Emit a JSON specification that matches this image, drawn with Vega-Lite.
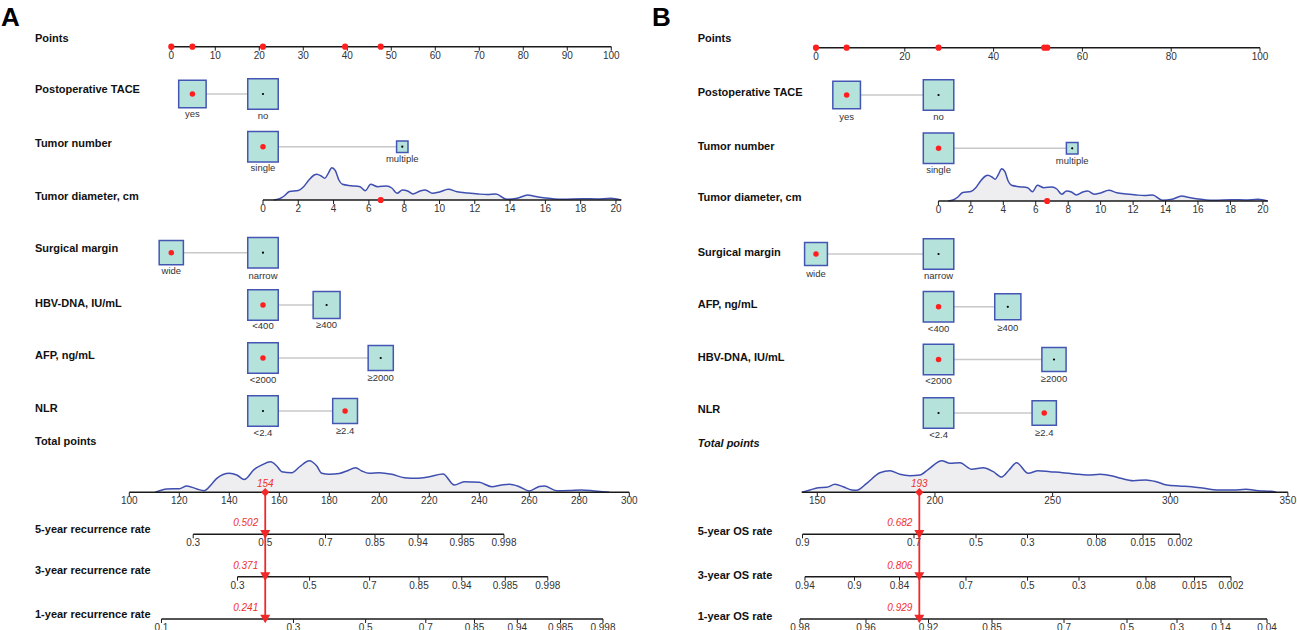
{
"$schema":"https://vega.github.io/schema/vega-lite/v6.json",
"padding":0,
"spacing":0,
"bounds":"flush",
"background":"white",
"config":{"view":{"stroke":null},"text":{"font":"Liberation Sans"}},
"datasets":{
"A":[
{"k":"ttl","x":-38.7,"y":25.5,"t":"A"},
{"k":"row","x":-30.98,"y":38.5,"t":"Points"},
{"k":"row","x":-30.98,"y":90,"t":"Postoperative TACE"},
{"k":"row","x":-30.98,"y":144,"t":"Tumor number"},
{"k":"row","x":-30.98,"y":197.3,"t":"Tumor diameter, cm"},
{"k":"row","x":-30.98,"y":249,"t":"Surgical margin"},
{"k":"row","x":-30.98,"y":304,"t":"HBV-DNA, IU/mL"},
{"k":"row","x":-30.98,"y":356,"t":"AFP, ng/mL"},
{"k":"row","x":-30.98,"y":409,"t":"NLR"},
{"k":"row","x":-30.98,"y":441.7,"t":"Total points"},
{"k":"row","x":-30.98,"y":530,"t":"5-year recurrence rate"},
{"k":"row","x":-30.98,"y":571,"t":"3-year recurrence rate"},
{"k":"row","x":-30.98,"y":615,"t":"1-year recurrence rate"},
{"k":"axis","x":0,"xe":100,"y":46.7},
{"k":"axis","x":20.84,"xe":102.26,"y":200},
{"k":"axis","x":-9.545,"xe":104.09,"y":492.3},
{"k":"axis","x":4.98,"xe":75.61,"y":534.3},
{"k":"axis","x":15.05,"xe":85.57,"y":576.7},
{"k":"axis","x":-2.23,"xe":98.11,"y":619},
{"k":"tick","x":0,"y":46.7,"t":"0"},{"k":"tick","x":10,"y":46.7,"t":"10"},{"k":"tick","x":20,"y":46.7,"t":"20"},{"k":"tick","x":30,"y":46.7,"t":"30"},{"k":"tick","x":40,"y":46.7,"t":"40"},{"k":"tick","x":50,"y":46.7,"t":"50"},{"k":"tick","x":60,"y":46.7,"t":"60"},{"k":"tick","x":70,"y":46.7,"t":"70"},{"k":"tick","x":80,"y":46.7,"t":"80"},{"k":"tick","x":90,"y":46.7,"t":"90"},{"k":"tick","x":100,"y":46.7,"t":"100"},
{"k":"tick","x":20.84,"y":200,"t":"0"},{"k":"tick","x":28.86,"y":200,"t":"2"},{"k":"tick","x":36.88,"y":200,"t":"4"},{"k":"tick","x":44.91,"y":200,"t":"6"},{"k":"tick","x":52.93,"y":200,"t":"8"},{"k":"tick","x":60.95,"y":200,"t":"10"},{"k":"tick","x":68.97,"y":200,"t":"12"},{"k":"tick","x":76.99,"y":200,"t":"14"},{"k":"tick","x":85.02,"y":200,"t":"16"},{"k":"tick","x":93.04,"y":200,"t":"18"},{"k":"tick","x":101.06,"y":200,"t":"20"},
{"k":"tick","x":-9.545,"y":492.3,"t":"100"},{"k":"tick","x":1.82,"y":492.3,"t":"120"},{"k":"tick","x":13.18,"y":492.3,"t":"140"},{"k":"tick","x":24.55,"y":492.3,"t":"160"},{"k":"tick","x":35.91,"y":492.3,"t":"180"},{"k":"tick","x":47.27,"y":492.3,"t":"200"},{"k":"tick","x":58.64,"y":492.3,"t":"220"},{"k":"tick","x":70.0,"y":492.3,"t":"240"},{"k":"tick","x":81.36,"y":492.3,"t":"260"},{"k":"tick","x":92.73,"y":492.3,"t":"280"},{"k":"tick","x":104.09,"y":492.3,"t":"300"},
{"k":"tick","x":4.98,"y":534.3,"t":"0.3"},{"k":"tick","x":21.36,"y":534.3,"t":"0.5"},{"k":"tick","x":35.05,"y":534.3,"t":"0.7"},{"k":"tick","x":46.30,"y":534.3,"t":"0.85"},{"k":"tick","x":56.07,"y":534.3,"t":"0.94"},{"k":"tick","x":66.07,"y":534.3,"t":"0.985"},{"k":"tick","x":75.61,"y":534.3,"t":"0.998"},
{"k":"tick","x":15.05,"y":576.7,"t":"0.3"},{"k":"tick","x":31.43,"y":576.7,"t":"0.5"},{"k":"tick","x":45.07,"y":576.7,"t":"0.7"},{"k":"tick","x":56.30,"y":576.7,"t":"0.85"},{"k":"tick","x":66.02,"y":576.7,"t":"0.94"},{"k":"tick","x":75.91,"y":576.7,"t":"0.985"},{"k":"tick","x":85.57,"y":576.7,"t":"0.998"},
{"k":"tick","x":-2.23,"y":619,"t":"0.1"},{"k":"tick","x":27.77,"y":619,"t":"0.3"},{"k":"tick","x":44.16,"y":619,"t":"0.5"},{"k":"tick","x":57.84,"y":619,"t":"0.7"},{"k":"tick","x":68.91,"y":619,"t":"0.85"},{"k":"tick","x":78.64,"y":619,"t":"0.94"},{"k":"tick","x":88.45,"y":619,"t":"0.985"},{"k":"tick","x":98.11,"y":619,"t":"0.998"},
{"k":"box","v":"tace","x":4.8,"y":94,"r":0.81,"sel":true},
{"k":"box","v":"tace","x":20.84,"y":94,"r":1,"sel":false},
{"k":"box","v":"num","x":20.84,"y":146.7,"r":1,"sel":true},
{"k":"box","v":"num","x":52.5,"y":146.7,"r":0.14,"sel":false},
{"k":"box","v":"marg","x":0,"y":252.7,"r":0.63,"sel":true},
{"k":"box","v":"marg","x":20.84,"y":252.7,"r":1,"sel":false},
{"k":"box","v":"hbv","x":20.84,"y":305,"r":1,"sel":true},
{"k":"box","v":"hbv","x":35.3,"y":305,"r":0.78,"sel":false},
{"k":"box","v":"afp","x":20.84,"y":358,"r":1,"sel":true},
{"k":"box","v":"afp","x":47.6,"y":358,"r":0.68,"sel":false},
{"k":"box","v":"nlr","x":20.84,"y":411,"r":1,"sel":false},
{"k":"box","v":"nlr","x":39.5,"y":411,"r":0.66,"sel":true},
{"k":"lab","x":4.8,"y":114.3,"t":"yes"},{"k":"lab","x":20.84,"y":116.3,"t":"no"},
{"k":"lab","x":20.84,"y":168.3,"t":"single"},{"k":"lab","x":52.5,"y":159.3,"t":"multiple"},
{"k":"lab","x":0,"y":271,"t":"wide"},{"k":"lab","x":20.84,"y":275.7,"t":"narrow"},
{"k":"lab","x":20.84,"y":326,"t":"<400"},{"k":"lab","x":35.3,"y":325,"t":"≥400"},
{"k":"lab","x":20.84,"y":380,"t":"<2000"},{"k":"lab","x":47.6,"y":378,"t":"≥2000"},
{"k":"lab","x":20.84,"y":433,"t":"<2.4"},{"k":"lab","x":39.5,"y":431,"t":"≥2.4"},
{"k":"adot","x":0,"y":46.7},{"k":"adot","x":4.8,"y":46.7},{"k":"adot","x":20.84,"y":46.7},{"k":"adot","x":39.5,"y":46.7},{"k":"adot","x":47.6,"y":46.7},
{"k":"adot","x":47.6,"y":200},
{"k":"rl","x":21.35,"y":492.3,"ye":619,"t":"154"},
{"k":"tri","x":21.35,"y":534.3,"t":"0.502"},
{"k":"tri","x":21.35,"y":576.7,"t":"0.371"},
{"k":"tri","x":21.35,"y":619,"t":"0.241"},
{"k":"dens","s":"tum","b":200,"x":23.25,"y":200},{"k":"dens","s":"tum","b":200,"x":24.45,"y":199},{"k":"dens","s":"tum","b":200,"x":25.65,"y":196},{"k":"dens","s":"tum","b":200,"x":26.86,"y":191.5},{"k":"dens","s":"tum","b":200,"x":28.86,"y":190.5},{"k":"dens","s":"tum","b":200,"x":30.07,"y":186.7},{"k":"dens","s":"tum","b":200,"x":31.27,"y":180},{"k":"dens","s":"tum","b":200,"x":32.47,"y":175},{"k":"dens","s":"tum","b":200,"x":33.07,"y":174.2},{"k":"dens","s":"tum","b":200,"x":34.08,"y":176},{"k":"dens","s":"tum","b":200,"x":34.88,"y":178.3},{"k":"dens","s":"tum","b":200,"x":35.68,"y":173.3},{"k":"dens","s":"tum","b":200,"x":36.48,"y":167.7},{"k":"dens","s":"tum","b":200,"x":37.29,"y":170.7},{"k":"dens","s":"tum","b":200,"x":38.09,"y":180},{"k":"dens","s":"tum","b":200,"x":38.89,"y":184.3},{"k":"dens","s":"tum","b":200,"x":40.90,"y":185.7},{"k":"dens","s":"tum","b":200,"x":42.90,"y":186.7},{"k":"dens","s":"tum","b":200,"x":44.10,"y":190.7},{"k":"dens","s":"tum","b":200,"x":45.31,"y":184.3},{"k":"dens","s":"tum","b":200,"x":46.91,"y":186.7},{"k":"dens","s":"tum","b":200,"x":48.92,"y":186},{"k":"dens","s":"tum","b":200,"x":50.12,"y":188},{"k":"dens","s":"tum","b":200,"x":51.32,"y":193.3},{"k":"dens","s":"tum","b":200,"x":52.53,"y":190},{"k":"dens","s":"tum","b":200,"x":53.73,"y":191},{"k":"dens","s":"tum","b":200,"x":54.93,"y":194},{"k":"dens","s":"tum","b":200,"x":56.54,"y":191},{"k":"dens","s":"tum","b":200,"x":57.74,"y":190},{"k":"dens","s":"tum","b":200,"x":59.35,"y":193.3},{"k":"dens","s":"tum","b":200,"x":60.95,"y":192},{"k":"dens","s":"tum","b":200,"x":62.96,"y":189.3},{"k":"dens","s":"tum","b":200,"x":64.96,"y":191.7},{"k":"dens","s":"tum","b":200,"x":67.37,"y":193},{"k":"dens","s":"tum","b":200,"x":69.77,"y":194},{"k":"dens","s":"tum","b":200,"x":71.78,"y":194.5},{"k":"dens","s":"tum","b":200,"x":73.79,"y":194},{"k":"dens","s":"tum","b":200,"x":76.19,"y":199.3},{"k":"dens","s":"tum","b":200,"x":78.60,"y":198.3},{"k":"dens","s":"tum","b":200,"x":81.01,"y":195},{"k":"dens","s":"tum","b":200,"x":82.21,"y":196},{"k":"dens","s":"tum","b":200,"x":85.02,"y":198},{"k":"dens","s":"tum","b":200,"x":87.02,"y":199},{"k":"dens","s":"tum","b":200,"x":89.03,"y":199.3},{"k":"dens","s":"tum","b":200,"x":93.44,"y":198.7},{"k":"dens","s":"tum","b":200,"x":96.65,"y":199},{"k":"dens","s":"tum","b":200,"x":99.86,"y":198.3},{"k":"dens","s":"tum","b":200,"x":102.26,"y":200},
{"k":"dens","s":"tp","b":492.3,"x":-3.64,"y":492.3},{"k":"dens","s":"tp","b":492.3,"x":-1.02,"y":489},{"k":"dens","s":"tp","b":492.3,"x":1.82,"y":488.7},{"k":"dens","s":"tp","b":492.3,"x":3.52,"y":486},{"k":"dens","s":"tp","b":492.3,"x":5.80,"y":489},{"k":"dens","s":"tp","b":492.3,"x":7.5,"y":490.7},{"k":"dens","s":"tp","b":492.3,"x":9.20,"y":484},{"k":"dens","s":"tp","b":492.3,"x":10.34,"y":478.3},{"k":"dens","s":"tp","b":492.3,"x":13.18,"y":473.3},{"k":"dens","s":"tp","b":492.3,"x":14.89,"y":475},{"k":"dens","s":"tp","b":492.3,"x":16.59,"y":479.5},{"k":"dens","s":"tp","b":492.3,"x":18.86,"y":469.3},{"k":"dens","s":"tp","b":492.3,"x":20.57,"y":465},{"k":"dens","s":"tp","b":492.3,"x":22.56,"y":461.7},{"k":"dens","s":"tp","b":492.3,"x":23.98,"y":466},{"k":"dens","s":"tp","b":492.3,"x":25.11,"y":471.7},{"k":"dens","s":"tp","b":492.3,"x":27.39,"y":472.7},{"k":"dens","s":"tp","b":492.3,"x":29.09,"y":467},{"k":"dens","s":"tp","b":492.3,"x":31.36,"y":460.7},{"k":"dens","s":"tp","b":492.3,"x":33.07,"y":466},{"k":"dens","s":"tp","b":492.3,"x":34.20,"y":473.3},{"k":"dens","s":"tp","b":492.3,"x":35.91,"y":474.3},{"k":"dens","s":"tp","b":492.3,"x":38.18,"y":473.5},{"k":"dens","s":"tp","b":492.3,"x":39.89,"y":471},{"k":"dens","s":"tp","b":492.3,"x":41.88,"y":467.7},{"k":"dens","s":"tp","b":492.3,"x":43.30,"y":471},{"k":"dens","s":"tp","b":492.3,"x":45.0,"y":473.3},{"k":"dens","s":"tp","b":492.3,"x":47.27,"y":472.7},{"k":"dens","s":"tp","b":492.3,"x":50.11,"y":474.3},{"k":"dens","s":"tp","b":492.3,"x":52.95,"y":477.7},{"k":"dens","s":"tp","b":492.3,"x":55.80,"y":478.3},{"k":"dens","s":"tp","b":492.3,"x":58.64,"y":476.7},{"k":"dens","s":"tp","b":492.3,"x":61.76,"y":474},{"k":"dens","s":"tp","b":492.3,"x":64.32,"y":485},{"k":"dens","s":"tp","b":492.3,"x":66.59,"y":481.7},{"k":"dens","s":"tp","b":492.3,"x":70.0,"y":482.3},{"k":"dens","s":"tp","b":492.3,"x":72.84,"y":486.7},{"k":"dens","s":"tp","b":492.3,"x":75.11,"y":485},{"k":"dens","s":"tp","b":492.3,"x":76.82,"y":484.3},{"k":"dens","s":"tp","b":492.3,"x":79.09,"y":486.7},{"k":"dens","s":"tp","b":492.3,"x":81.36,"y":491},{"k":"dens","s":"tp","b":492.3,"x":83.64,"y":486.5},{"k":"dens","s":"tp","b":492.3,"x":84.77,"y":486},{"k":"dens","s":"tp","b":492.3,"x":87.61,"y":490.7},{"k":"dens","s":"tp","b":492.3,"x":90.45,"y":490.5},{"k":"dens","s":"tp","b":492.3,"x":93.30,"y":490},{"k":"dens","s":"tp","b":492.3,"x":96.14,"y":491},{"k":"dens","s":"tp","b":492.3,"x":99.55,"y":492.3}
],
"B":[
{"k":"ttl","x":-36.94,"y":25.5,"t":"B"},
{"k":"row","x":-26.64,"y":39.3,"t":"Points"},
{"k":"row","x":-26.64,"y":93.3,"t":"Postoperative TACE"},
{"k":"row","x":-26.64,"y":146.7,"t":"Tumor number"},
{"k":"row","x":-26.64,"y":197.7,"t":"Tumor diameter, cm"},
{"k":"row","x":-26.64,"y":253.3,"t":"Surgical margin"},
{"k":"row","x":-26.64,"y":305,"t":"AFP, ng/mL"},
{"k":"row","x":-26.64,"y":358.3,"t":"HBV-DNA, IU/mL"},
{"k":"row","x":-26.64,"y":410,"t":"NLR"},
{"k":"rowi","x":-26.64,"y":444,"t":"Total points"},
{"k":"row","x":-26.64,"y":532.3,"t":"5-year OS rate"},
{"k":"row","x":-26.64,"y":576,"t":"3-year OS rate"},
{"k":"row","x":-26.64,"y":617.3,"t":"1-year OS rate"},
{"k":"axis","x":0,"xe":100,"y":47.7},
{"k":"axis","x":27.57,"xe":101.75,"y":201},
{"k":"axis","x":-3.20,"xe":106.28,"y":492.3},
{"k":"axis","x":-3.04,"xe":81.98,"y":534.3},
{"k":"axis","x":-2.48,"xe":93.47,"y":576.7},
{"k":"axis","x":-3.60,"xe":101.58,"y":619},
{"k":"tick","x":0,"y":47.7,"t":"0"},{"k":"tick","x":20,"y":47.7,"t":"20"},{"k":"tick","x":40,"y":47.7,"t":"40"},{"k":"tick","x":60,"y":47.7,"t":"60"},{"k":"tick","x":80,"y":47.7,"t":"80"},{"k":"tick","x":100,"y":47.7,"t":"100"},
{"k":"tick","x":27.57,"y":201,"t":"0"},{"k":"tick","x":34.88,"y":201,"t":"2"},{"k":"tick","x":42.19,"y":201,"t":"4"},{"k":"tick","x":49.49,"y":201,"t":"6"},{"k":"tick","x":56.80,"y":201,"t":"8"},{"k":"tick","x":64.11,"y":201,"t":"10"},{"k":"tick","x":71.42,"y":201,"t":"12"},{"k":"tick","x":78.73,"y":201,"t":"14"},{"k":"tick","x":86.03,"y":201,"t":"16"},{"k":"tick","x":93.34,"y":201,"t":"18"},{"k":"tick","x":100.65,"y":201,"t":"20"},
{"k":"tick","x":0.29,"y":492.3,"t":"150"},{"k":"tick","x":26.79,"y":492.3,"t":"200"},{"k":"tick","x":53.29,"y":492.3,"t":"250"},{"k":"tick","x":79.79,"y":492.3,"t":"300"},{"k":"tick","x":106.28,"y":492.3,"t":"350"},
{"k":"tick","x":-3.04,"y":534.3,"t":"0.9"},{"k":"tick","x":22.07,"y":534.3,"t":"0.7"},{"k":"tick","x":36.04,"y":534.3,"t":"0.5"},{"k":"tick","x":47.64,"y":534.3,"t":"0.3"},{"k":"tick","x":63.18,"y":534.3,"t":"0.08"},{"k":"tick","x":73.65,"y":534.3,"t":"0.015"},{"k":"tick","x":81.98,"y":534.3,"t":"0.002"},
{"k":"tick","x":-2.48,"y":576.7,"t":"0.94"},{"k":"tick","x":8.67,"y":576.7,"t":"0.9"},{"k":"tick","x":18.81,"y":576.7,"t":"0.84"},{"k":"tick","x":33.78,"y":576.7,"t":"0.7"},{"k":"tick","x":47.64,"y":576.7,"t":"0.5"},{"k":"tick","x":59.23,"y":576.7,"t":"0.3"},{"k":"tick","x":74.32,"y":576.7,"t":"0.08"},{"k":"tick","x":85.25,"y":576.7,"t":"0.015"},{"k":"tick","x":93.47,"y":576.7,"t":"0.002"},
{"k":"tick","x":-3.60,"y":619,"t":"0.98"},{"k":"tick","x":11.26,"y":619,"t":"0.96"},{"k":"tick","x":25.34,"y":619,"t":"0.92"},{"k":"tick","x":39.64,"y":619,"t":"0.85"},{"k":"tick","x":55.86,"y":619,"t":"0.7"},{"k":"tick","x":70.05,"y":619,"t":"0.5"},{"k":"tick","x":81.31,"y":619,"t":"0.3"},{"k":"tick","x":91.22,"y":619,"t":"0.14"},{"k":"tick","x":101.58,"y":619,"t":"0.04"},
{"k":"box","v":"tace","x":6.9,"y":95,"r":0.82,"sel":true},
{"k":"box","v":"tace","x":27.6,"y":95,"r":1,"sel":false},
{"k":"box","v":"num","x":27.6,"y":148.3,"r":1,"sel":true},
{"k":"box","v":"num","x":57.7,"y":148.3,"r":0.145,"sel":false},
{"k":"box","v":"marg","x":0,"y":254,"r":0.56,"sel":true},
{"k":"box","v":"marg","x":27.6,"y":254,"r":1,"sel":false},
{"k":"box","v":"afp","x":27.6,"y":306.8,"r":1,"sel":true},
{"k":"box","v":"afp","x":43.2,"y":306.8,"r":0.735,"sel":false},
{"k":"box","v":"hbv","x":27.6,"y":359.5,"r":1,"sel":true},
{"k":"box","v":"hbv","x":53.6,"y":359.5,"r":0.63,"sel":false},
{"k":"box","v":"nlr","x":27.6,"y":413,"r":1,"sel":false},
{"k":"box","v":"nlr","x":51.4,"y":413,"r":0.635,"sel":true},
{"k":"lab","x":6.9,"y":116.7,"t":"yes"},{"k":"lab","x":27.6,"y":117.3,"t":"no"},
{"k":"lab","x":27.6,"y":170,"t":"single"},{"k":"lab","x":57.7,"y":160.7,"t":"multiple"},
{"k":"lab","x":0,"y":274.3,"t":"wide"},{"k":"lab","x":27.6,"y":276,"t":"narrow"},
{"k":"lab","x":27.6,"y":329,"t":"<400"},{"k":"lab","x":43.2,"y":327.7,"t":"≥400"},
{"k":"lab","x":27.6,"y":381,"t":"<2000"},{"k":"lab","x":53.6,"y":379.3,"t":"≥2000"},
{"k":"lab","x":27.6,"y":435,"t":"<2.4"},{"k":"lab","x":51.4,"y":432.7,"t":"≥2.4"},
{"k":"adot","x":0,"y":47.7},{"k":"adot","x":6.9,"y":47.7},{"k":"adot","x":27.6,"y":47.7},{"k":"adot","x":51.4,"y":47.7},{"k":"adot","x":52.1,"y":47.7},
{"k":"adot","x":52.05,"y":201},
{"k":"rl","x":23.27,"y":492.3,"ye":619,"t":"193"},
{"k":"tri","x":23.27,"y":534.3,"t":"0.682"},
{"k":"tri","x":23.27,"y":576.7,"t":"0.806"},
{"k":"tri","x":23.27,"y":619,"t":"0.929"},
{"k":"dens","s":"tum","b":201,"x":29.76,"y":201},{"k":"dens","s":"tum","b":201,"x":30.86,"y":200},{"k":"dens","s":"tum","b":201,"x":31.95,"y":197},{"k":"dens","s":"tum","b":201,"x":33.05,"y":192.5},{"k":"dens","s":"tum","b":201,"x":34.88,"y":191.5},{"k":"dens","s":"tum","b":201,"x":35.98,"y":187.7},{"k":"dens","s":"tum","b":201,"x":37.07,"y":181},{"k":"dens","s":"tum","b":201,"x":38.17,"y":176},{"k":"dens","s":"tum","b":201,"x":38.71,"y":175.2},{"k":"dens","s":"tum","b":201,"x":39.63,"y":177},{"k":"dens","s":"tum","b":201,"x":40.36,"y":179.3},{"k":"dens","s":"tum","b":201,"x":41.09,"y":174.3},{"k":"dens","s":"tum","b":201,"x":41.82,"y":168.7},{"k":"dens","s":"tum","b":201,"x":42.55,"y":171.7},{"k":"dens","s":"tum","b":201,"x":43.28,"y":181},{"k":"dens","s":"tum","b":201,"x":44.01,"y":185.3},{"k":"dens","s":"tum","b":201,"x":45.84,"y":186.7},{"k":"dens","s":"tum","b":201,"x":47.67,"y":187.7},{"k":"dens","s":"tum","b":201,"x":48.76,"y":191.7},{"k":"dens","s":"tum","b":201,"x":49.86,"y":185.3},{"k":"dens","s":"tum","b":201,"x":51.32,"y":187.7},{"k":"dens","s":"tum","b":201,"x":53.15,"y":187},{"k":"dens","s":"tum","b":201,"x":54.24,"y":189},{"k":"dens","s":"tum","b":201,"x":55.34,"y":194.3},{"k":"dens","s":"tum","b":201,"x":56.44,"y":191},{"k":"dens","s":"tum","b":201,"x":57.53,"y":192},{"k":"dens","s":"tum","b":201,"x":58.63,"y":195},{"k":"dens","s":"tum","b":201,"x":60.09,"y":192},{"k":"dens","s":"tum","b":201,"x":61.19,"y":191},{"k":"dens","s":"tum","b":201,"x":62.65,"y":194.3},{"k":"dens","s":"tum","b":201,"x":64.11,"y":193},{"k":"dens","s":"tum","b":201,"x":65.94,"y":190.3},{"k":"dens","s":"tum","b":201,"x":67.76,"y":192.7},{"k":"dens","s":"tum","b":201,"x":69.96,"y":194},{"k":"dens","s":"tum","b":201,"x":72.15,"y":195},{"k":"dens","s":"tum","b":201,"x":73.98,"y":195.5},{"k":"dens","s":"tum","b":201,"x":75.80,"y":195},{"k":"dens","s":"tum","b":201,"x":78.00,"y":200.3},{"k":"dens","s":"tum","b":201,"x":80.19,"y":199.3},{"k":"dens","s":"tum","b":201,"x":82.38,"y":196},{"k":"dens","s":"tum","b":201,"x":83.48,"y":197},{"k":"dens","s":"tum","b":201,"x":86.03,"y":199},{"k":"dens","s":"tum","b":201,"x":87.86,"y":200},{"k":"dens","s":"tum","b":201,"x":89.69,"y":200.3},{"k":"dens","s":"tum","b":201,"x":93.71,"y":199.7},{"k":"dens","s":"tum","b":201,"x":96.63,"y":200},{"k":"dens","s":"tum","b":201,"x":99.55,"y":199.3},{"k":"dens","s":"tum","b":201,"x":101.75,"y":201},
{"k":"dens","s":"tp","b":492.3,"x":-3.20,"y":492.3},{"k":"dens","s":"tp","b":492.3,"x":-1.35,"y":490},{"k":"dens","s":"tp","b":492.3,"x":0.50,"y":487.7},{"k":"dens","s":"tp","b":492.3,"x":2.41,"y":487.3},{"k":"dens","s":"tp","b":492.3,"x":4.27,"y":484.3},{"k":"dens","s":"tp","b":492.3,"x":6.12,"y":486.7},{"k":"dens","s":"tp","b":492.3,"x":8.03,"y":490},{"k":"dens","s":"tp","b":492.3,"x":9.14,"y":490.3},{"k":"dens","s":"tp","b":492.3,"x":11.42,"y":483.3},{"k":"dens","s":"tp","b":492.3,"x":14.39,"y":472.7},{"k":"dens","s":"tp","b":492.3,"x":16.67,"y":470.7},{"k":"dens","s":"tp","b":492.3,"x":18.89,"y":474.3},{"k":"dens","s":"tp","b":492.3,"x":21.12,"y":475.7},{"k":"dens","s":"tp","b":492.3,"x":23.40,"y":475},{"k":"dens","s":"tp","b":492.3,"x":25.31,"y":469.3},{"k":"dens","s":"tp","b":492.3,"x":28.33,"y":460.7},{"k":"dens","s":"tp","b":492.3,"x":30.18,"y":463.3},{"k":"dens","s":"tp","b":492.3,"x":32.41,"y":462.7},{"k":"dens","s":"tp","b":492.3,"x":35.06,"y":469.3},{"k":"dens","s":"tp","b":492.3,"x":37.66,"y":467.7},{"k":"dens","s":"tp","b":492.3,"x":39.93,"y":471.7},{"k":"dens","s":"tp","b":492.3,"x":41.79,"y":477},{"k":"dens","s":"tp","b":492.3,"x":43.48,"y":470},{"k":"dens","s":"tp","b":492.3,"x":45.18,"y":462.7},{"k":"dens","s":"tp","b":492.3,"x":47.78,"y":473.3},{"k":"dens","s":"tp","b":492.3,"x":50.06,"y":470.7},{"k":"dens","s":"tp","b":492.3,"x":52.71,"y":471.7},{"k":"dens","s":"tp","b":492.3,"x":55.51,"y":472.7},{"k":"dens","s":"tp","b":492.3,"x":58.32,"y":474},{"k":"dens","s":"tp","b":492.3,"x":61.13,"y":475},{"k":"dens","s":"tp","b":492.3,"x":63.99,"y":474.3},{"k":"dens","s":"tp","b":492.3,"x":66.80,"y":476},{"k":"dens","s":"tp","b":492.3,"x":68.66,"y":478.3},{"k":"dens","s":"tp","b":492.3,"x":71.47,"y":480.7},{"k":"dens","s":"tp","b":492.3,"x":74.28,"y":480},{"k":"dens","s":"tp","b":492.3,"x":76.61,"y":481.7},{"k":"dens","s":"tp","b":492.3,"x":78.99,"y":485},{"k":"dens","s":"tp","b":492.3,"x":81.80,"y":486},{"k":"dens","s":"tp","b":492.3,"x":84.61,"y":486.7},{"k":"dens","s":"tp","b":492.3,"x":87.42,"y":488.3},{"k":"dens","s":"tp","b":492.3,"x":90.28,"y":490},{"k":"dens","s":"tp","b":492.3,"x":93.99,"y":490},{"k":"dens","s":"tp","b":492.3,"x":96.80,"y":489.3},{"k":"dens","s":"tp","b":492.3,"x":99.61,"y":490.7},{"k":"dens","s":"tp","b":492.3,"x":102.41,"y":491.3},{"k":"dens","s":"tp","b":492.3,"x":103.64,"y":492.3}
]
},
"hconcat":[
{
"width":649,"height":630,
"data":{"name":"A"},
"encoding":{
"x":{"field":"x","type":"quantitative","scale":{"domain":[-38.93,108.57],"nice":false,"zero":false},"axis":null},
"y":{"field":"y","type":"quantitative","scale":{"domain":[0,630],"reverse":true,"nice":false,"zero":false},"axis":null}
},
"layer":[
{"transform":[{"filter":"datum.k=='dens'"}],"mark":{"type":"area","color":"#eeeef1","opacity":1,"interpolate":"monotone"},"encoding":{"y2":{"field":"b"},"detail":{"field":"s","type":"nominal"}}},
{"transform":[{"filter":"datum.k=='dens'"}],"mark":{"type":"line","color":"#3f4fb0","strokeWidth":1.5,"interpolate":"monotone"},"encoding":{"detail":{"field":"s","type":"nominal"}}},
{"transform":[{"filter":"datum.k=='axis'"}],"mark":{"type":"rule","color":"#1a1a1a","strokeWidth":1.6},"encoding":{"x2":{"field":"xe"}}},
{"transform":[{"filter":"datum.k=='tick'"}],"mark":{"type":"rule","color":"#1a1a1a","strokeWidth":1,"y2Offset":4},"encoding":{"y2":{"field":"y"}}},
{"transform":[{"filter":"datum.k=='tick'"}],"mark":{"type":"text","dy":8.8,"fontSize":10,"color":"#333333","baseline":"middle","align":"center"},"encoding":{"text":{"field":"t","type":"nominal"}}},
{"transform":[{"filter":"datum.k=='box'"},{"aggregate":[{"op":"min","field":"x","as":"x"},{"op":"max","field":"x","as":"xe"}],"groupby":["v","y"]}],"mark":{"type":"rule","color":"#c8c8c8","strokeWidth":1.5},"encoding":{"x2":{"field":"xe"}}},
{"transform":[{"filter":"datum.k=='box'"}],"mark":{"type":"point","shape":"square","filled":true,"fill":"#b5e2da","stroke":"#4456b4","strokeWidth":1.5,"opacity":1},"encoding":{"size":{"field":"r","type":"quantitative","scale":{"domain":[0,1],"range":[0,930],"zero":true},"legend":null}}},
{"transform":[{"filter":"datum.k=='box' && !datum.sel"}],"mark":{"type":"point","shape":"circle","filled":true,"color":"#000000","size":5,"opacity":1}},
{"transform":[{"filter":"datum.k=='box' && datum.sel"}],"mark":{"type":"point","shape":"circle","filled":true,"color":"#ff1f1f","size":30,"opacity":1}},
{"transform":[{"filter":"datum.k=='adot'"}],"mark":{"type":"point","shape":"circle","filled":true,"color":"#ff1f1f","size":38,"opacity":1}},
{"transform":[{"filter":"datum.k=='lab'"}],"mark":{"type":"text","fontSize":9.5,"color":"#333333","baseline":"middle","align":"center"},"encoding":{"text":{"field":"t","type":"nominal"}}},
{"transform":[{"filter":"datum.k=='row'"}],"mark":{"type":"text","fontSize":11,"fontWeight":"bold","color":"#111111","baseline":"middle","align":"left"},"encoding":{"text":{"field":"t","type":"nominal"}}},
{"transform":[{"filter":"datum.k=='rowi'"}],"mark":{"type":"text","fontSize":11,"fontWeight":"bold","fontStyle":"italic","color":"#111111","baseline":"middle","align":"left"},"encoding":{"text":{"field":"t","type":"nominal"}}},
{"transform":[{"filter":"datum.k=='ttl'"}],"mark":{"type":"text","fontSize":26,"fontWeight":"bold","color":"#000000","baseline":"alphabetic","align":"left"},"encoding":{"text":{"field":"t","type":"nominal"}}},
{"transform":[{"filter":"datum.k=='rl'"}],"mark":{"type":"rule","color":"#f02828","strokeWidth":1.8},"encoding":{"y2":{"field":"ye"}}},
{"transform":[{"filter":"datum.k=='rl'"}],"mark":{"type":"point","shape":"diamond","filled":true,"color":"#f02828","size":70,"opacity":1}},
{"transform":[{"filter":"datum.k=='tri'"}],"mark":{"type":"point","shape":"triangle-down","filled":true,"color":"#f02828","size":100,"opacity":1}},
{"transform":[{"filter":"datum.k=='rl'"}],"mark":{"type":"text","fontSize":10,"fontStyle":"italic","color":"#f03030","baseline":"middle","align":"center","dy":-8.5},"encoding":{"text":{"field":"t","type":"nominal"}}},
{"transform":[{"filter":"datum.k=='tri'"}],"mark":{"type":"text","fontSize":10,"fontStyle":"italic","color":"#f03030","baseline":"middle","align":"right","dx":-7,"dy":-11},"encoding":{"text":{"field":"t","type":"nominal"}}}
]
},
{
"width":648,"height":630,
"data":{"name":"B"},
"encoding":{
"x":{"field":"x","type":"quantitative","scale":{"domain":[-37.61,108.33],"nice":false,"zero":false},"axis":null},
"y":{"field":"y","type":"quantitative","scale":{"domain":[0,630],"reverse":true,"nice":false,"zero":false},"axis":null}
},
"layer":[
{"transform":[{"filter":"datum.k=='dens'"}],"mark":{"type":"area","color":"#eeeef1","opacity":1,"interpolate":"monotone"},"encoding":{"y2":{"field":"b"},"detail":{"field":"s","type":"nominal"}}},
{"transform":[{"filter":"datum.k=='dens'"}],"mark":{"type":"line","color":"#3f4fb0","strokeWidth":1.5,"interpolate":"monotone"},"encoding":{"detail":{"field":"s","type":"nominal"}}},
{"transform":[{"filter":"datum.k=='axis'"}],"mark":{"type":"rule","color":"#1a1a1a","strokeWidth":1.6},"encoding":{"x2":{"field":"xe"}}},
{"transform":[{"filter":"datum.k=='tick'"}],"mark":{"type":"rule","color":"#1a1a1a","strokeWidth":1,"y2Offset":4},"encoding":{"y2":{"field":"y"}}},
{"transform":[{"filter":"datum.k=='tick'"}],"mark":{"type":"text","dy":8.8,"fontSize":10,"color":"#333333","baseline":"middle","align":"center"},"encoding":{"text":{"field":"t","type":"nominal"}}},
{"transform":[{"filter":"datum.k=='box'"},{"aggregate":[{"op":"min","field":"x","as":"x"},{"op":"max","field":"x","as":"xe"}],"groupby":["v","y"]}],"mark":{"type":"rule","color":"#c8c8c8","strokeWidth":1.5},"encoding":{"x2":{"field":"xe"}}},
{"transform":[{"filter":"datum.k=='box'"}],"mark":{"type":"point","shape":"square","filled":true,"fill":"#b5e2da","stroke":"#4456b4","strokeWidth":1.5,"opacity":1},"encoding":{"size":{"field":"r","type":"quantitative","scale":{"domain":[0,1],"range":[0,990],"zero":true},"legend":null}}},
{"transform":[{"filter":"datum.k=='box' && !datum.sel"}],"mark":{"type":"point","shape":"circle","filled":true,"color":"#000000","size":5,"opacity":1}},
{"transform":[{"filter":"datum.k=='box' && datum.sel"}],"mark":{"type":"point","shape":"circle","filled":true,"color":"#ff1f1f","size":30,"opacity":1}},
{"transform":[{"filter":"datum.k=='adot'"}],"mark":{"type":"point","shape":"circle","filled":true,"color":"#ff1f1f","size":38,"opacity":1}},
{"transform":[{"filter":"datum.k=='lab'"}],"mark":{"type":"text","fontSize":9.5,"color":"#333333","baseline":"middle","align":"center"},"encoding":{"text":{"field":"t","type":"nominal"}}},
{"transform":[{"filter":"datum.k=='row'"}],"mark":{"type":"text","fontSize":11,"fontWeight":"bold","color":"#111111","baseline":"middle","align":"left"},"encoding":{"text":{"field":"t","type":"nominal"}}},
{"transform":[{"filter":"datum.k=='rowi'"}],"mark":{"type":"text","fontSize":11,"fontWeight":"bold","fontStyle":"italic","color":"#111111","baseline":"middle","align":"left"},"encoding":{"text":{"field":"t","type":"nominal"}}},
{"transform":[{"filter":"datum.k=='ttl'"}],"mark":{"type":"text","fontSize":26,"fontWeight":"bold","color":"#000000","baseline":"alphabetic","align":"left"},"encoding":{"text":{"field":"t","type":"nominal"}}},
{"transform":[{"filter":"datum.k=='rl'"}],"mark":{"type":"rule","color":"#f02828","strokeWidth":1.8},"encoding":{"y2":{"field":"ye"}}},
{"transform":[{"filter":"datum.k=='rl'"}],"mark":{"type":"point","shape":"diamond","filled":true,"color":"#f02828","size":70,"opacity":1}},
{"transform":[{"filter":"datum.k=='tri'"}],"mark":{"type":"point","shape":"triangle-down","filled":true,"color":"#f02828","size":100,"opacity":1}},
{"transform":[{"filter":"datum.k=='rl'"}],"mark":{"type":"text","fontSize":10,"fontStyle":"italic","color":"#f03030","baseline":"middle","align":"center","dy":-8.5},"encoding":{"text":{"field":"t","type":"nominal"}}},
{"transform":[{"filter":"datum.k=='tri'"}],"mark":{"type":"text","fontSize":10,"fontStyle":"italic","color":"#f03030","baseline":"middle","align":"right","dx":-7,"dy":-11},"encoding":{"text":{"field":"t","type":"nominal"}}}
]
}
]
}
